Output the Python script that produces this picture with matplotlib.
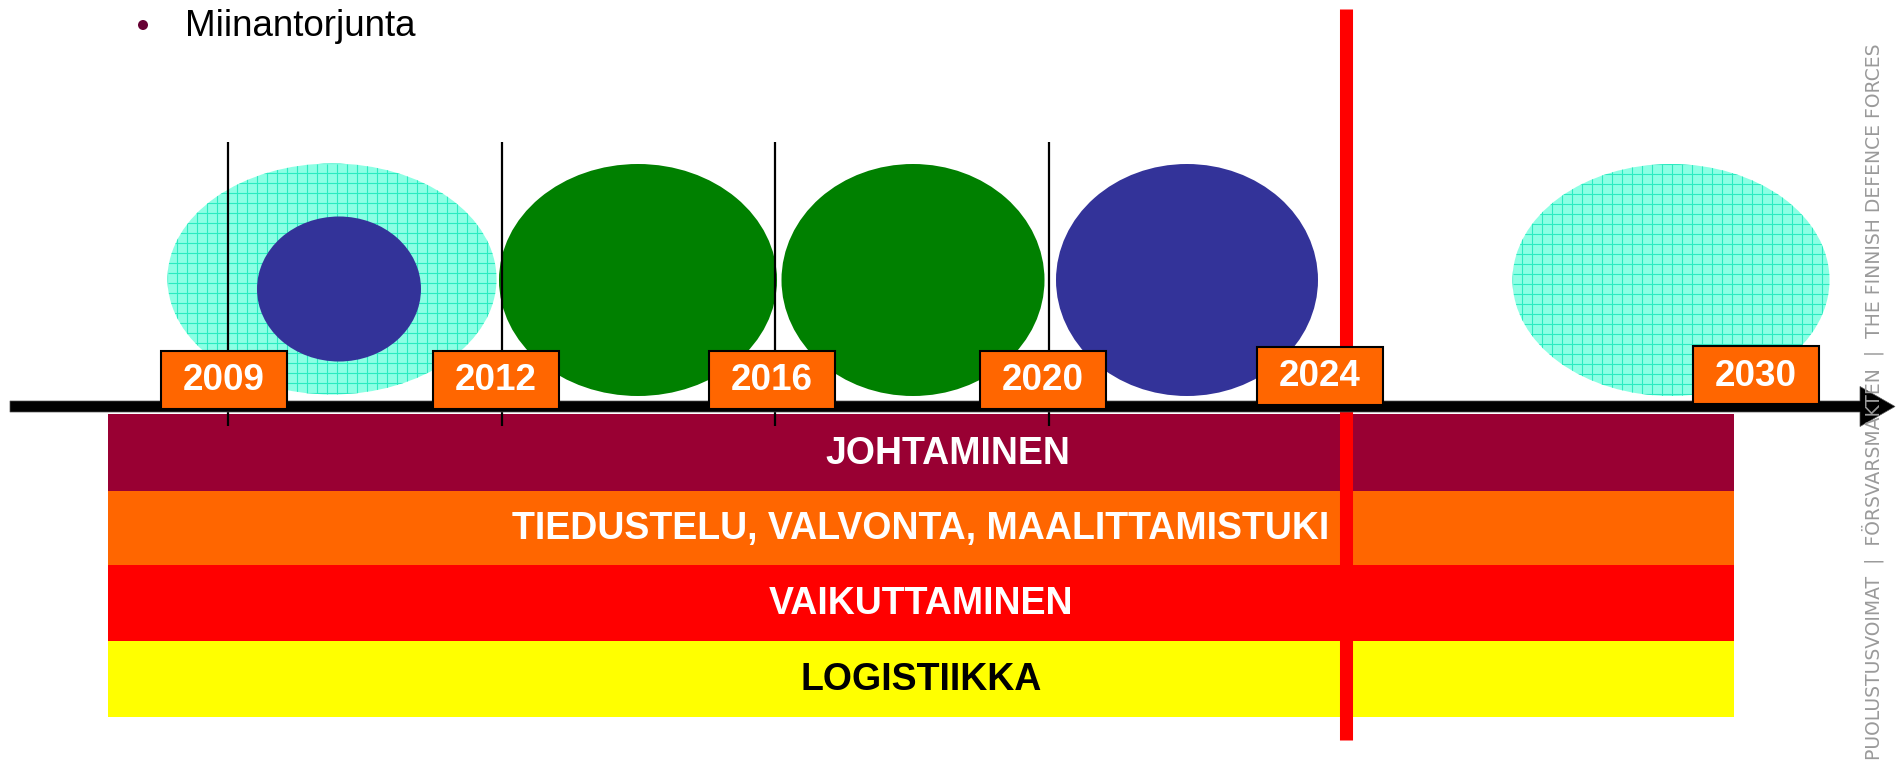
import matplotlib
matplotlib.use('Agg')
import matplotlib.pyplot as plt
from matplotlib.patches import Ellipse, Rectangle, FancyArrow, Circle

# --- data ---
years = ['2009', '2012', '2016', '2020', '2024', '2030']
bands = ['JOHTAMINEN', 'TIEDUSTELU, VALVONTA, MAALITTAMISTUKI',
         'VAIKUTTAMINEN', 'LOGISTIIKKA']
band_colors = ['#990033', '#FF6600', '#FF0000', '#FFFF00']
band_text_colors = ['white', 'white', 'white', 'black']
legend_label = 'Miinantorjunta'
side_text = 'PUOLUSTUSVOIMAT  |  FÖRSVARSMAKTEN  |  THE FINNISH DEFENCE FORCES'

# --- layout (pixel units, y down) ---
W, H = 1901, 760
year_box_left = [161, 433, 709, 980, 1257, 1693]
year_box_top = [351, 351, 351, 351, 347, 346]
box_w, box_h = 126, 58
marker_x = [228, 502, 775, 1049]
band_left, band_right = 108, 1734
band_top = [414, 491, 565, 641]
band_h = [77, 74, 76, 76]
band_text_dx = [27, 0, 0, 0]
arrow_y = 406.5
now_x = 1346

# ellipses: (cx, cy, w, h, kind)
ellipses = [
    (332, 279, 329, 231, 'grid'),
    (339, 289, 164, 145, 'blue'),
    (638, 280, 278, 232, 'green'),
    (913, 280, 263, 232, 'green'),
    (1187, 280, 262, 232, 'blue'),
    (1671, 280, 317, 232, 'grid'),
]
fills = {'green': '#008000', 'blue': '#333399', 'grid': '#8CFFE4'}

plt.rcParams['font.family'] = ['Liberation Sans', 'DejaVu Sans']

fig = plt.figure(figsize=(W / 100, H / 100), dpi=100)
ax = fig.add_axes([0, 0, 1, 1])
ax.set_xlim(0, W)
ax.set_ylim(H, 0)
ax.axis('off')

# capability bands
for i, name in enumerate(bands):
    ax.add_patch(Rectangle((band_left, band_top[i]), band_right - band_left, band_h[i],
                           facecolor=band_colors[i], edgecolor='none', zorder=1))
    ax.text((band_left + band_right) / 2 + band_text_dx[i], band_top[i] + band_h[i] / 2 + 1,
            name, color=band_text_colors[i], fontsize=27, fontweight='bold',
            ha='center', va='center', zorder=2)

# programme ellipses
for cx, cy, w, h, kind in ellipses:
    if kind == 'grid':
        e = Ellipse((cx, cy), w, h, facecolor=fills[kind], edgecolor='none', zorder=3)
        ax.add_patch(e)
        gx = range(int(cx - w / 2), int(cx + w / 2) + 1, 10)
        gy = range(int(cy - h / 2), int(cy + h / 2) + 1, 10)
        vl = ax.vlines(list(gx), cy - h / 2, cy + h / 2, color='#2AEBC0', lw=0.8, zorder=3.1)
        hl = ax.hlines(list(gy), cx - w / 2, cx + w / 2, color='#2AEBC0', lw=0.8, zorder=3.1)
        vl.set_clip_path(e)
        hl.set_clip_path(e)
    else:
        ax.add_patch(Ellipse((cx, cy), w, h, facecolor=fills[kind], edgecolor='none',
                             zorder=3.5))

# year marker lines
ax.vlines(marker_x, 142, 426, color='black', lw=1.6, zorder=4)

# "now" line
ax.vlines([now_x], 9, 740, color='#FF0000', lw=9.4, zorder=5)

# time axis arrow
ax.add_patch(FancyArrow(10, arrow_y, 1885, 0, width=11, head_width=40, head_length=35,
                        length_includes_head=True, facecolor='black',
                        edgecolor='#555555', lw=0.5, zorder=6))

# year boxes
for i, yr in enumerate(years):
    ax.add_patch(Rectangle((year_box_left[i], year_box_top[i]), box_w, box_h,
                           facecolor='#FF6600', edgecolor='black', lw=1.5, zorder=7))
    ax.text(year_box_left[i] + box_w / 2, year_box_top[i] + box_h / 2 + 1, yr,
            color='white', fontsize=26.5, fontweight='bold',
            ha='center', va='center', zorder=8)

# legend bullet
ax.add_patch(Circle((143, 25), 5, facecolor='#660033', edgecolor='none', zorder=8))
ax.text(185, 26, legend_label, fontsize=26.5, color='black', ha='left', va='center', zorder=8)

# side branding text
ax.text(1873, 402, side_text, rotation=90, fontsize=13.5, color='#9A9A9A',
        family=['Liberation Sans Narrow', 'DejaVu Sans Condensed', 'DejaVu Sans'],
        ha='center', va='center', zorder=9)

fig.savefig('out.png', dpi=100)
